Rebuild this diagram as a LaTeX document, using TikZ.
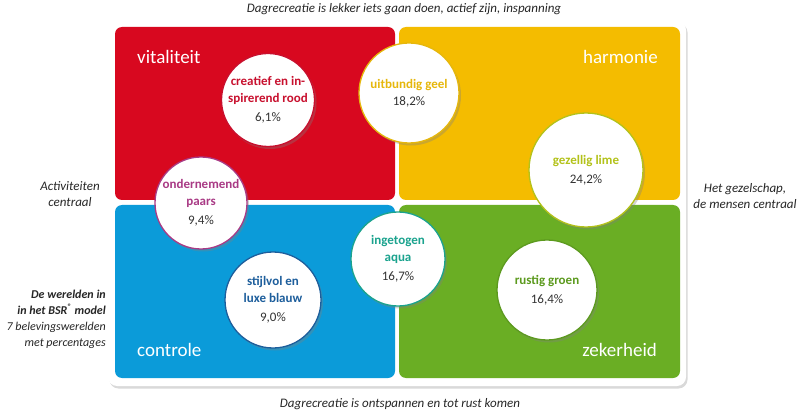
\documentclass[tikz,border=0pt]{standalone}
\usepackage{fontspec}
\setmainfont{Carlito}
\usetikzlibrary{shadows}

\definecolor{vlakrood}{HTML}{D8081F}
\definecolor{vlakgeel}{HTML}{F4BC00}
\definecolor{vlakblauw}{HTML}{0B9BD9}
\definecolor{vlakgroen}{HTML}{6AAE24}
\definecolor{tekstrood}{HTML}{C8102E}
\definecolor{tekstgeel}{HTML}{E6B70C}
\definecolor{tekstlime}{HTML}{B3C21A}
\definecolor{tekstpaars}{HTML}{A93A85}
\definecolor{tekstblauw}{HTML}{1D5E9C}
\definecolor{tekstaqua}{HTML}{1BA38E}
\definecolor{tekstgroen}{HTML}{5C9A1E}
\definecolor{cijfer}{HTML}{333333}

\begin{document}
\begin{tikzpicture}[x=1pt,y=-1pt,
  wereld/.style={circle,fill=white,line width=1.3pt,minimum size=#1,inner sep=0pt,
    align=center,font=\fontsize{13}{17}\selectfont,text=cijfer,
    drop shadow={shadow xshift=2pt,shadow yshift=-2.5pt,opacity=0.35}},
  vlaklabel/.style={text=white,font=\fontsize{19}{22}\selectfont,inner sep=0pt},
  randtekst/.style={font=\fontsize{13}{16}\selectfont\itshape,text=black!85,align=center,inner sep=0pt}]
  \useasboundingbox (0,0) rectangle (800,414);
  % panel and quadrants
  \fill[white,rounded corners=9pt,drop shadow={shadow xshift=1.5pt,shadow yshift=-2.5pt,opacity=0.3}] (108,21) rectangle (686,386);
  \fill[vlakrood,rounded corners=7pt] (115,27) rectangle (395,200);
  \fill[vlakgeel,rounded corners=7pt] (399,27) rectangle (680,200);
  \fill[vlakblauw,rounded corners=7pt] (115,205) rectangle (395,378);
  \fill[vlakgroen,rounded corners=7pt] (399,205) rectangle (680,378);
  \node[vlaklabel,anchor=west] (vitaliteit) at (137,57) {vitaliteit};
  \node[vlaklabel,anchor=east] (harmonie) at (658,57) {harmonie};
  \node[vlaklabel,anchor=west] (controle) at (137,350) {controle};
  \node[vlaklabel,anchor=east] (zekerheid) at (657,350) {zekerheid};
  % the seven worlds
  \node[wereld=93pt,draw=tekstrood] (rood) at (268,100)
    {\textcolor{tekstrood}{\bfseries creatief en in-}\\\textcolor{tekstrood}{\bfseries spirerend rood}\\[2pt]6,1\%};
  \node[wereld=100pt,draw=tekstgeel] (geel) at (409,93)
    {\textcolor{tekstgeel}{\bfseries uitbundig geel}\\18,2\%};
  \node[wereld=114pt,draw=tekstlime] (lime) at (586,170)
    {\textcolor{tekstlime}{\bfseries gezellig lime}\\[2pt]24,2\%};
  \node[wereld=92pt,draw=tekstpaars] (paars) at (201,203)
    {\textcolor{tekstpaars}{\bfseries ondernemend}\\\textcolor{tekstpaars}{\bfseries paars}\\[2pt]9,4\%};
  \node[wereld=96pt,draw=tekstblauw] (blauw) at (273,300)
    {\textcolor{tekstblauw}{\bfseries stijlvol en}\\\textcolor{tekstblauw}{\bfseries luxe blauw}\\[2pt]9,0\%};
  \node[wereld=94pt,draw=tekstaqua] (aqua) at (398,259)
    {\textcolor{tekstaqua}{\bfseries ingetogen}\\\textcolor{tekstaqua}{\bfseries aqua}\\[2pt]16,7\%};
  \node[wereld=100pt,draw=tekstgroen] (groen) at (547,290)
    {\textcolor{tekstgroen}{\bfseries rustig groen}\\[2pt]16,4\%};
  % axis texts
  \node[randtekst] (boven) at (404,9) {Dagrecreatie is lekker iets gaan doen, actief zijn, inspanning};
  \node[randtekst] (onder) at (400,404) {Dagrecreatie is ontspannen en tot rust komen};
  \node[randtekst] (links) at (70,194) {Activiteiten\\centraal};
  \node[randtekst] (rechts) at (745,196) {Het gezelschap,\\de mensen centraal};
  \node[randtekst,font=\fontsize{12}{15.5}\selectfont\itshape,align=right,anchor=north east] (legenda) at (106,290)
    {{\bfseries De werelden in}\\{\bfseries in het BSR\textsuperscript{®} model}\\[1pt]7 belevingswerelden\\met percentages};
\end{tikzpicture}
\end{document}
